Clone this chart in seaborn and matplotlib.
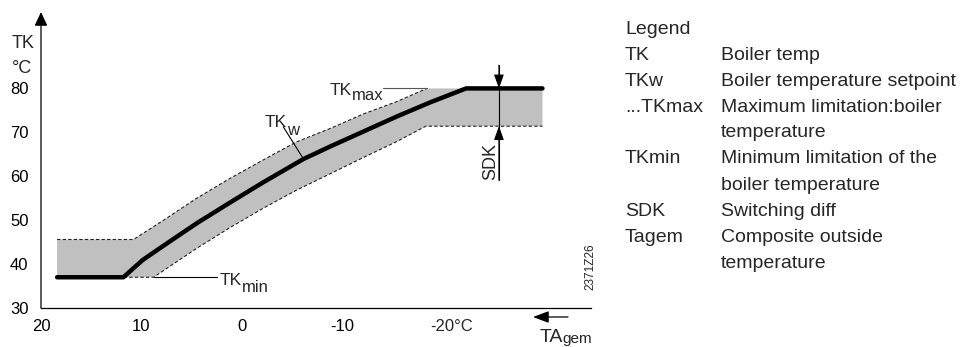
import matplotlib.pyplot as plt
import seaborn as sns

sns.set_style('white')
plt.rcParams['font.family'] = ['Liberation Sans', 'DejaVu Sans']

# TKw setpoint curve (x: composite outside temp TAgem, y: boiler temp TK)
tkw_x = [18.4, 11.8, 9.9, 7.8, 4.5, 1.2, -2.1, -6.1, -8.8, -12.1, -15.4, -18.7, -22.3, -29.9]
tkw_y = [37.0, 37.0, 40.9, 44.2, 49.3, 54.0, 58.6, 63.9, 66.8, 70.2, 73.6, 76.8, 80.0, 80.0]

# switching band (SDK) upper / lower edges
upper_x = [18.4, 10.8, 7.8, 4.5, 1.2, -2.1, -5.4, -8.8, -12.1, -15.4, -18.4, -29.9]
upper_y = [45.6, 45.6, 50.0, 55.0, 59.5, 63.7, 67.8, 70.9, 74.2, 77.0, 80.0, 80.0]
lower_x = [18.4, 8.8, 4.5, 1.2, -2.1, -5.4, -8.8, -12.1, -15.4, -18.3, -29.9]
lower_y = [37.0, 37.0, 43.6, 48.3, 52.7, 56.8, 60.6, 64.3, 67.9, 71.4, 71.4]

x_ticks = [20, 10, 0, -10, -20]
x_labels = ['20', '10', '0', '-10', '']
y_ticks = [30, 40, 50, 60, 70, 80]

legend_keys = ['Legend', 'TK', 'TKw', '...TKmax', '', 'TKmin', '', 'SDK', 'Tagem', '']
legend_desc = ['', 'Boiler temp', 'Boiler temperature setpoint', 'Maximum limitation:boiler',
               'temperature', 'Minimum limitation of the', 'boiler temperature',
               'Switching diff', 'Composite outside', 'temperature']

W, H = 964, 347
fig = plt.figure(figsize=(W / 100, H / 100), dpi=100)
ax = fig.add_axes([41 / W, 39 / H, 550 / W, 296 / H])
ax.set_xlim(20, -34.73)
ax.set_ylim(30, 97.4)

# grey band
ax.fill(upper_x + lower_x[::-1], upper_y + lower_y[::-1], color='#c0c0c0', lw=0, zorder=1)
sns.lineplot(x=upper_x[:-1], y=upper_y[:-1], sort=False, estimator=None, color='#222222',
             lw=0.8, ls=(0, (3, 2)), ax=ax, zorder=2)
sns.lineplot(x=lower_x, y=lower_y, sort=False, estimator=None, color='#222222',
             lw=0.8, ls=(0, (3, 2)), ax=ax, zorder=2)

# setpoint curve
sns.lineplot(x=tkw_x, y=tkw_y, sort=False, estimator=None, color='black', lw=3.2,
             ax=ax, zorder=3)

# axes
for s in ['top', 'right', 'left']:
    ax.spines[s].set_visible(False)
ax.spines['bottom'].set_linewidth(0.9)
ax.spines['bottom'].set_color('black')
ax.annotate('', xy=(20, 97.4), xytext=(20, 30), annotation_clip=False,
            arrowprops=dict(arrowstyle='-|>,head_length=0.6,head_width=0.28', color='black',
                            lw=0.9, mutation_scale=14, shrinkA=0, shrinkB=0))
ax.set_xticks(x_ticks)
ax.set_xticklabels(x_labels)
ax.set_yticks(y_ticks)
ax.tick_params(axis='both', direction='out', length=6, width=0.8, color='black',
               labelsize=12, labelcolor='black')
ax.tick_params(axis='x', pad=2)
ax.tick_params(axis='y', pad=3)
ax.annotate('-20°C', xy=(-20, 30), xytext=(-9, -8), textcoords='offset points',
            ha='left', va='top', fontsize=12, annotation_clip=False)
ax.set_xlabel('')
ax.set_ylabel('')

# labels with leader lines
ax.plot([-4.11, -6.10], [71.26, 64.0], color='black', lw=0.8, zorder=4)
ax.text(-2.29, 71.2, 'TK', fontsize=12.5, va='baseline', ha='left')
ax.text(-4.45, 69.4, 'w', fontsize=12, va='baseline', ha='left')

ax.plot([-14.03, -18.4], [80.1, 80.1], color='#555555', lw=0.8, zorder=2)
ax.text(-8.76, 78.5, 'TK', fontsize=12.5, va='baseline', ha='left')
ax.text(-10.95, 77.45, 'max', fontsize=12, va='baseline', ha='left')

ax.plot([8.8, 2.49], [37.0, 37.0], color='black', lw=0.8, zorder=2)
ax.text(2.19, 35.23, 'TK', fontsize=12.5, va='baseline', ha='left')
ax.text(0.0, 33.64, 'min', fontsize=12, va='baseline', ha='left')

# SDK marker
ax.plot([-25.57, -25.57], [85.3, 59.1], color='black', lw=0.8, zorder=4, clip_on=False)
for tip, tail in [(80.0, 85.3), (71.4, 59.1)]:
    ax.annotate('', xy=(-25.57, tip), xytext=(-25.57, tail), annotation_clip=False,
                arrowprops=dict(arrowstyle='-|>,head_length=0.7,head_width=0.25',
                                color='black', lw=0.8, mutation_scale=12,
                                shrinkA=0, shrinkB=0), zorder=5)
ax.text(-24.73, 63.45, 'SDK', rotation=90, fontsize=13, ha='center', va='center')

# axis titles
fig.text(11.7 / W, 1 - 48.3 / H, 'TK', fontsize=13, va='baseline', ha='left')
fig.text(11.7 / W, 1 - 73.3 / H, '°C', fontsize=13, va='baseline', ha='left')
fig.text(540 / W, 1 - 341.5 / H, 'TA', fontsize=14, va='baseline', ha='left')
fig.text(562 / W, 1 - 343.5 / H, 'gem', fontsize=11, va='baseline', ha='left')
ax.annotate('', xy=(533, H - 317), xytext=(568, H - 317), xycoords='figure pixels',
            textcoords='figure pixels', annotation_clip=False,
            arrowprops=dict(arrowstyle='-|>,head_length=0.8,head_width=0.3', color='black',
                            lw=0.9, mutation_scale=12, shrinkA=0, shrinkB=0))
fig.text(590 / W, 1 - 267 / H, '2371Z26', rotation=90, fontsize=8.5, ha='center', va='center')

# legend block
for i, (k, d) in enumerate(zip(legend_keys, legend_desc)):
    yb = 1 - (33.5 + 26 * i) / H
    if k:
        fig.text(625 / W, yb, k, fontsize=14, va='baseline', ha='left')
    if d:
        fig.text(721 / W, yb, d, fontsize=14, va='baseline', ha='left')

fig.savefig('out.png', dpi=100)
